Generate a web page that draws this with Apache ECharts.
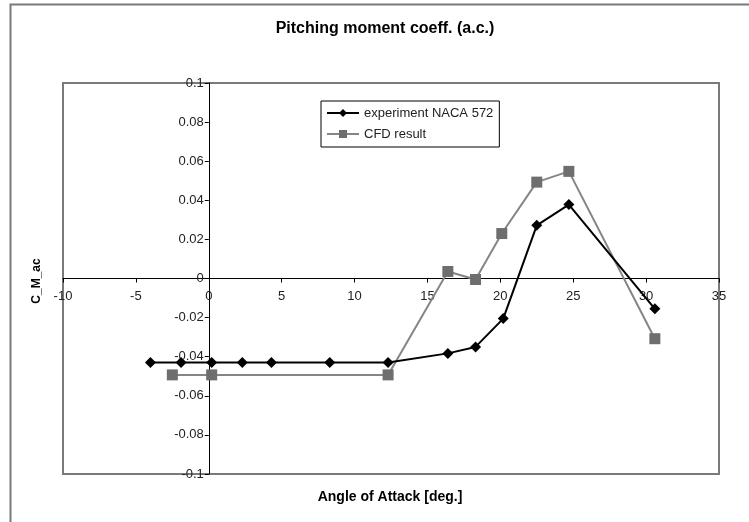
<!DOCTYPE html>
<html>
<head>
<meta charset="utf-8">
<script src="https://cdn.jsdelivr.net/npm/echarts@6/dist/echarts.min.js"></script>
<style>html,body{margin:0;padding:0;background:#fff;}#c{width:749px;height:522px;}</style>
</head>
<body>
<div id="c"></div>
<script>
const titleText = 'Pitching moment coeff. (a.c.)';
const xAxisName = 'Angle of Attack [deg.]';
const yAxisName = 'C_M_ac';
const seriesNames = ['experiment NACA 572', 'CFD result'];
const expAlpha = [-4, -1.9, 0.2, 2.3, 4.3, 8.3, 12.3, 16.4, 18.3, 20.2, 22.5, 24.7, 30.6];
const expCm    = [-0.043, -0.043, -0.043, -0.043, -0.043, -0.043, -0.043, -0.0383, -0.035, -0.0205, 0.0272, 0.0378, -0.0155];
const cfdAlpha = [-2.5, 0.2, 12.3, 16.4, 18.3, 20.1, 22.5, 24.7, 30.6];
const cfdCm    = [-0.0493, -0.0493, -0.0493, 0.0036, -0.0005, 0.023, 0.0493, 0.0548, -0.0308];
const xMin = -10, xMax = 35, xStep = 5;
const yMin = -0.1, yMax = 0.1, yStep = 0.02;

const FONT = '"Liberation Sans", Arial, sans-serif';
const G = {left: 63, top: 83, width: 656, height: 391};
const chart = echarts.init(document.getElementById('c'), null, {renderer: 'canvas'});
const zip = (a, b) => a.map((v, i) => [v, b[i]]);

// shift axes so they cross at the origin, like the original
const xAxisOffset = -G.height * (0 - yMin) / (yMax - yMin);
const yAxisOffset = -G.width * (0 - xMin) / (xMax - xMin);

chart.setOption({
  animation: false,
  backgroundColor: '#fff',
  grid: Object.assign({show: true, borderColor: '#7a7a7a', borderWidth: 2, backgroundColor: 'transparent'}, G),
  xAxis: {
    type: 'value', min: xMin, max: xMax, interval: xStep,
    position: 'bottom', offset: xAxisOffset,
    axisLine: {onZero: false, lineStyle: {color: '#000', width: 1}},
    axisTick: {show: true, inside: false, length: 4, lineStyle: {color: '#000'}},
    axisLabel: {color: '#222', fontFamily: FONT, fontSize: 13, margin: 11},
    splitLine: {show: false}
  },
  yAxis: {
    type: 'value', min: yMin, max: yMax, interval: yStep,
    position: 'left', offset: yAxisOffset,
    axisLine: {onZero: false, lineStyle: {color: '#000', width: 1}},
    axisTick: {show: true, inside: false, length: 4, lineStyle: {color: '#000'}},
    axisLabel: {color: '#222', fontFamily: FONT, fontSize: 13, margin: 5},
    splitLine: {show: false}
  },
  legend: {
    left: 321, top: 101, orient: 'vertical',
    backgroundColor: '#fff',
    borderColor: '#000', borderWidth: 1,
    padding: [5, 6, 6, 5],
    itemWidth: 32, itemHeight: 10, itemGap: 7,
    textStyle: {color: '#222', fontFamily: FONT, fontSize: 13, lineHeight: 14},
    data: seriesNames
  },
  graphic: [
    {type: 'rect', shape: {x: 10.5, y: 4.5, width: 800, height: 600}, style: {fill: 'none', stroke: '#7a7a7a', lineWidth: 2}, z: 100, silent: true},
    {type: 'text', x: 385, y: 29, style: {text: titleText, font: 'bold 16px ' + FONT, fill: '#000', textAlign: 'center', textVerticalAlign: 'middle'}},
    {type: 'text', x: 390, y: 497, style: {text: xAxisName, font: 'bold 14px ' + FONT, fill: '#000', textAlign: 'center', textVerticalAlign: 'middle'}},
    {type: 'text', x: 37, y: 281, rotation: Math.PI / 2, style: {text: yAxisName, font: 'bold 12px ' + FONT, fill: '#000', textAlign: 'center', textVerticalAlign: 'middle'}}
  ],
  series: [
    {
      name: seriesNames[0], type: 'line', data: zip(expAlpha, expCm),
      symbol: 'diamond', symbolSize: 11, z: 3,
      lineStyle: {color: '#000', width: 2},
      itemStyle: {color: '#000'}
    },
    {
      name: seriesNames[1], type: 'line', data: zip(cfdAlpha, cfdCm),
      symbol: 'rect', symbolSize: 11, z: 2,
      lineStyle: {color: '#858585', width: 2},
      itemStyle: {color: '#6e6e6e'}
    }
  ]
});
</script>
</body>
</html>
